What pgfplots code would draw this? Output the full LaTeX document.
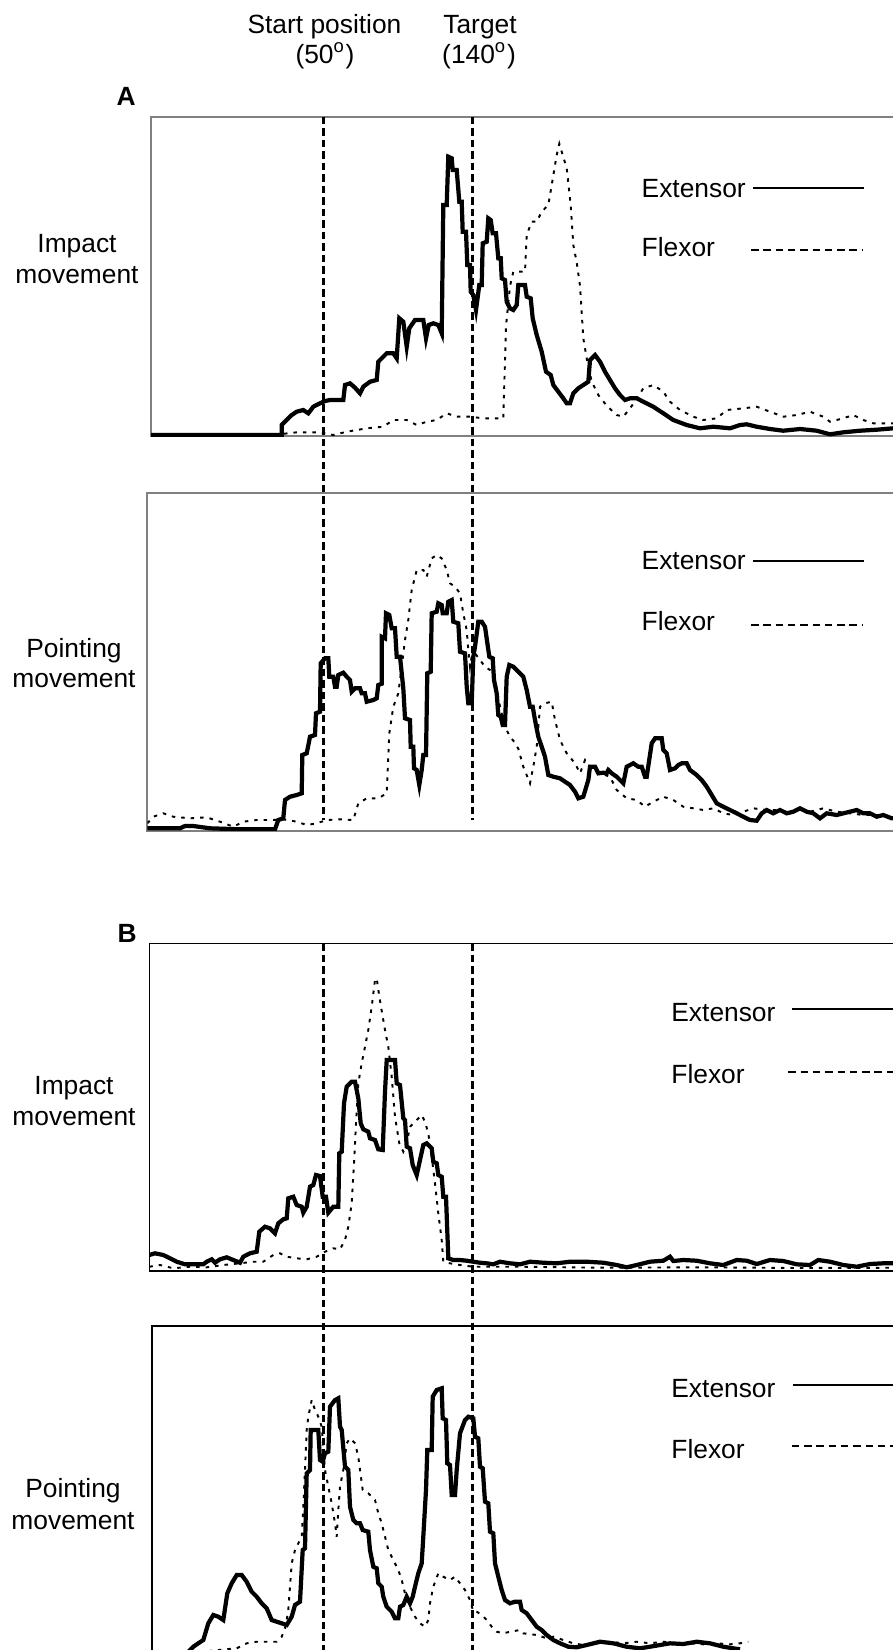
\documentclass[border=0pt]{standalone}
\usepackage{fontspec}
\setmainfont{Liberation Sans}
\usepackage{pgfplots}
\pgfplotsset{compat=1.18}

% one unit = one pixel of the 893x1650 figure (0.1mm)
\pgfplotsset{
  panel/.style={x=0.1mm, y=0.1mm, xmax=905, ymin=0,
    xtick=\empty, ytick=\empty, anchor=south west, clip=true},
  ext/.style={black, line width=1.2pt},
  flex/.style={black, line width=0.55pt, dash pattern=on 0.35mm off 0.6mm},
}
\tikzset{lab/.style={font=\fontsize{7.5}{9}\selectfont, inner sep=0pt},
  vline/.style={line width=0.75pt, dash pattern=on 0.75mm off 0.4mm}}

\begin{document}
\begin{tikzpicture}
\path[use as bounding box] (0,0) rectangle (89.3mm,-165mm);
\clip (0,0) rectangle (89.3mm,-165mm);

% ---- A, impact movement
\begin{axis}[panel, at={(15.1mm,-43.6mm)}, xmin=151, ymax=319.3,
  axis line style={black!50, line width=0.6pt}]
\addplot[ext] coordinates {
(151,1) (281.7,1) (281.7,11) (286.7,16) (291.7,21) (296.7,24.3) (303.3,26) (308.3,22.7)
(313.3,29.3) (320,32.7) (325,35) (330,36) (343.3,36) (345,51) (350,52.7) (355,48.3)
(360,42.7) (363.3,49.3) (370,54.3) (376.7,56) (378.3,74.3) (386.7,82.7) (393.3,82.7)
(396.7,77.7) (399.3,117.7) (403.3,114.3) (406.7,89.3) (409.3,107.7) (415,116) (423.3,116)
(426,97.7) (428.7,111) (433.3,112.7) (438.3,111) (441.7,102.7) (443.3,231) (446.7,231)
(448.3,279.3) (451.7,277.7) (452.7,266) (456.7,266) (459.3,234.3) (461.7,234.3)
(462.7,204.3) (466,204.3) (467.3,171) (470,171) (470.7,144.3) (473.3,141) (476,126)
(479.3,151) (481.7,151) (482.7,192.7) (486.7,194.3) (488.3,217.7) (490.7,216)
(492.7,202.7) (496,202.7) (498.3,177.7) (500.7,177.7) (501.7,157.7) (505,156)
(506.7,134.3) (510,127.7) (513.3,126) (516.7,131) (518.3,151) (525,151) (526.7,139.3)
(530.7,137.7) (532.7,117.7) (536.7,101) (541.7,84.3) (546,64.3) (550.7,61) (553.3,51)
(558.3,44.3) (563.3,37.7) (566.7,32.7) (570,32.7) (573.3,42.7) (578.3,47.7) (583.3,51)
(588.3,54.3) (590,76) (595,81) (600,74.3) (605,64.3) (610,56) (615,47.7) (620,41)
(625,36) (630,37.7) (636.7,37.7) (643.3,34.3) (653.3,29.3) (663.3,22.7) (673.3,16)
(686.7,11) (700,7.7) (713.3,9.3) (730,7.7) (740,11) (746.7,11.7) (756.7,9.3) (770,7)
(783.3,5.3) (800,7) (816.7,5.3) (830,1.7) (843.3,3.7) (860,5.3) (876.7,6.3) (893.3,7.7)
(905,7.7)
};
\addplot[flex] coordinates {
(151,2) (281.7,2) (296.7,3.7) (320,3.7) (333.3,1) (346.7,4.3) (366.7,7.7) (383.3,9.3)
(393.3,16) (406.7,16) (416.7,11) (426.7,14.3) (436.7,16) (446.7,22.7) (456.7,19.3)
(470,19.3) (483.3,17.7) (503.3,17.7) (506,110) (510,150) (513.3,164.3) (525,164.3)
(526.7,201) (531.7,214.3) (536.7,214.3) (541.7,224.3) (548.3,231) (551.7,251)
(556.7,281) (559.3,292.3) (562.7,281) (566.7,267.7) (570.7,231) (573.3,191)
(576.7,173.7) (580,150.3) (583.3,97.7) (586.7,77.7) (591.7,54.3) (598.3,41)
(606.7,30.3) (616.7,21) (623.3,19.3) (630,27.7) (636.7,37) (643.3,47.7) (653.3,51)
(663.3,44.3) (670,34.3) (680,26) (693.3,19.3) (703.3,16) (716.7,17.7) (726.7,26)
(743.3,27.7) (756.7,29.3) (770,24.3) (783.3,19.3) (796.7,21) (810,24.3) (823.3,19.3)
(830,14.3) (843.3,17.7) (853.3,21) (863.3,16) (873.3,12.7) (905,12.7)
};
\end{axis}

% ---- A, pointing movement
\begin{axis}[panel, at={(14.73mm,-83.07mm)}, xmin=147.3, ymax=337.4,
  axis line style={black!50, line width=0.6pt}]
\addplot[ext] coordinates {
(147.3,2.4) (180,2.4) (185,4.7) (193.3,4.7) (210,2.4) (240,1.4) (275,1.4) (278.3,10.7)
(283.3,12.4) (285,30.7) (290,34) (296.7,35.7) (301.7,37.4) (302.3,75.7) (306.7,77.4)
(310,94) (315,95.7) (316,117.4) (320,119) (320.7,167.4) (325,172.4) (328.3,172.4)
(329.3,154) (333.3,154) (335,144) (336.7,144) (338.3,155.7) (343.3,158) (346.7,154)
(350,150.7) (351.7,139) (355,142.4) (360,142.4) (361.7,137.4) (365,137.4) (366.7,129)
(373.3,130.7) (376.7,132.4) (378.3,145.7) (381.7,147) (381.7,194) (385,192.4)
(386,217.4) (389.3,215.7) (391.7,202.4) (395,202.4) (396.7,174) (400,174) (403.3,142.4)
(405,112.4) (410,110.7) (410.7,84) (413.3,84) (414,62.4) (416.7,60.7) (419.3,45.7)
(421.7,60.7) (423.3,75.7) (426,75.7) (427.3,157.4) (430.7,159) (431.7,217.4)
(436.7,219) (438.3,227.4) (441.7,225.7) (442.7,217.4) (446.7,217.4) (448.3,229)
(451.7,230.7) (453.3,209) (458.3,207.4) (460,179) (465,177.4) (466.7,144) (468.3,127.4)
(471.7,127.4) (473.3,174) (475,184) (478.3,209) (481.7,209) (485,204) (489.3,174)
(492.7,172.4) (494,150.7) (496.7,137.4) (498.3,115.7) (500.7,114) (502.7,105.7)
(505,105.7) (506.7,154) (509.3,165.7) (513.3,164) (516.7,160.7) (520,157.4)
(523.3,154) (526.7,140.7) (530,124) (532.7,124) (535,110.7) (538.3,94) (541.7,84)
(545,74) (548.3,55.7) (553.3,54) (560,52.4) (565,49) (570,45.7) (575,39) (578.3,32.4)
(583.3,34) (588.3,50.7) (590,64) (595,64) (598.3,57.4) (603.3,58) (606.7,57.4)
(608.3,60.7) (611.7,57.4) (616.7,54) (623.3,47.4) (626.7,64) (633.3,67.4) (638.3,64)
(641.7,64) (645,54) (646.7,54) (651.7,87.4) (655,92.4) (661.7,92.4) (663.3,80.7)
(666.7,77.4) (670,60.7) (675,62.4) (678.3,65.7) (681.7,67.4) (686.7,67.4) (690,60.7)
(696.7,55.7) (701.7,50.7) (706.7,44) (711.7,35.7) (716.7,27.4) (723.3,24) (730,20.7)
(736.7,17.4) (743.3,14) (750,10.7) (756.7,10) (761.7,17.4) (766.7,20.7) (773.3,17.4)
(780,20.7) (786.7,17.4) (793.3,19) (800,22.4) (806.7,19) (813.3,17.4) (820,12.4)
(826.7,17.4) (836.7,15.7) (843.3,17.4) (850,19) (856.7,20.7) (863.3,17.4) (870,17.4)
(876.7,14) (883.3,15.7) (891.7,12.4) (905,12.4)
};
\addplot[flex] coordinates {
(147.3,7.4) (153.3,14) (163.3,17.4) (173.3,14) (190,12.4) (206.7,13.4) (220,9)
(233.3,4) (243.3,9) (256.7,10.7) (273.3,10.7) (283.3,11.4) (296.7,9) (306.7,5.7)
(316.7,7.4) (326.7,10.7) (340,11.4) (353.3,10.7) (358.3,27.4) (366.7,32.4) (378.3,32.4)
(386.7,37.4) (389.3,97.4) (393.3,124) (398.3,137.4) (401.7,164) (405,190.7)
(408.3,210.7) (411.7,240.7) (416.7,260.7) (423.3,260.7) (426.7,254) (431.7,272.4)
(436.7,275.7) (441.7,272.4) (446.7,260.7) (450,247.4) (455,244) (460,237.4)
(463.3,217.4) (466.7,200.7) (468.3,180.7) (470,164) (471.7,174) (475,177.4) (480,170.7)
(485,164) (490,160.7) (495,150.7) (500,124) (505,104) (510,94) (515,88) (518.3,82)
(523.3,64) (530,47.4) (533.3,64) (536.7,84) (540,124) (545,127.4) (551.7,129)
(555,110.7) (560,90.7) (566.7,77.4) (575,67.4) (580,57.4) (585,70.7) (590,64)
(600,57.4) (610,54) (616.7,40.7) (626.7,32.4) (636.7,30.7) (645,24) (653.3,29)
(663.3,34) (673.3,30.7) (683.3,24) (693.3,22.4) (703.3,20.7) (713.3,22.4) (723.3,17.4)
(733.3,15.7) (743.3,19) (753.3,22.4) (766.7,20.7) (776.7,20.7) (786.7,19) (800,20.7)
(810,19) (823.3,22.4) (836.7,19) (850,17.4) (863.3,15.7) (876.7,15.7) (891.7,14)
(905,14)
};
\end{axis}

% ---- B, impact movement
\begin{axis}[panel, at={(14.93mm,-127.07mm)}, xmin=149.3, ymax=327.4,
  axis line style={black, line width=0.45pt}]
\addplot[ext] coordinates {
(149.3,15.7) (155,17.4) (163.3,15.7) (170,12.4) (176.7,9) (185,6.4) (203.3,6.4)
(206.7,9) (211.7,11.4) (215,8) (220,11.4) (226.7,13.4) (233.3,10.7) (240,8)
(243.3,14) (250,17.4) (256.7,19) (259.3,39) (265,44) (270,42.4) (275,37.4)
(278.3,47.4) (283.3,51.4) (286.7,52.4) (288.3,72.4) (293.3,74) (296.7,65.7)
(301.7,64) (303.3,58) (306.7,64) (310,84) (313.3,85.7) (316,95.7) (320,94.7)
(322.7,74) (326,74) (328.3,58) (333.3,64) (338.3,64) (339.3,117.4) (341.7,119)
(344,167.4) (346.7,184) (351.7,189) (355,189) (358.3,172.4) (360.7,147.4)
(363.3,141.4) (368.3,139) (370,132.4) (375,130.7) (378.3,121.4) (382.7,120.7)
(385,179) (386.7,210.7) (395,210.7) (396.7,187.4) (400,185.7) (403.3,152.4)
(405,150.7) (406.7,124) (410,122.4) (412.7,105.7) (416.7,95.7) (420,110.7)
(423.3,125.7) (426.7,127.4) (431.7,122.4) (433.3,109) (436.7,107.4) (438.3,95.7)
(441.7,94) (443.3,74) (446,74) (448.3,12.4) (453.3,10.7) (460,10.7) (466.7,10)
(473.3,9) (480,8) (486.7,7.4) (493.3,6.4) (500,9) (510,7.4) (520,6.4) (530,9)
(543.3,8) (556.7,7.4) (570,9) (586.7,9) (603.3,8) (616.7,5.7) (626.7,3.4) (636.7,5.7)
(650,9) (663.3,10) (670,14) (673.3,9.7) (683.3,10.7) (696.7,10) (710,7.4) (723.3,5.7)
(736.7,10.7) (746.7,10) (756.7,6.7) (770,10.7) (783.3,9.7) (796.7,6.4) (810,5.7)
(818.3,10.7) (830,9) (843.3,5.7) (856.7,4) (870,6.7) (883.3,7.4) (905,7.4)
};
\addplot[flex] coordinates {
(149.3,4) (160,5.7) (173.3,2.4) (190,4) (206.7,3.4) (223.3,5.7) (240,7.4) (253.3,9)
(263.3,9) (273.3,15.7) (280,17.4) (286.7,14) (296.7,12.4) (306.7,11.4) (316.7,14)
(325,19) (333.3,22.4) (340,21.4) (345,30.7) (348.3,44) (351.7,67.4) (354,107.4)
(356,147.4) (358.3,187.4) (361.7,207.4) (365,224) (368.3,240.7) (371.7,264)
(375,290.7) (376.7,292.4) (379.3,274) (382.7,254) (385,240.7) (388.3,224)
(391.7,194) (395,154) (399.3,127.4) (403.3,119) (406.7,127.4) (410,144) (415,149)
(421.7,155.7) (425,149) (428.3,137.4) (431.7,114) (435,87.4) (438.3,57.4)
(441.7,30.7) (443.3,9) (450,7.4) (460,5.7) (473.3,4) (520,4) (600,3) (700,3.4)
(800,2.7) (905,3)
};
\end{axis}

% ---- B, pointing movement
\begin{axis}[panel, at={(15.17mm,-166mm)}, xmin=151.7, ymax=334.3,
  axis line style={black, line width=0.6pt}]
\addplot[ext] coordinates {
(151.7,4) (188,8) (193.3,13.3) (198.3,16.7) (203.3,20) (208.3,36.7) (213.3,45)
(218.3,43.3) (223.3,40) (227.3,66.7) (231.7,76.7) (236.7,85) (241.7,85) (246.7,78.3)
(251.7,68.3) (256.7,63.3) (261.7,56.7) (266.7,51.7) (271.7,40) (276.7,38.3)
(281.7,36.7) (286.7,35) (291.7,43.3) (295,55) (300,58.3) (302.7,110) (305,111.7)
(306.7,186.7) (310,190) (310.7,230) (318.3,230) (320,200) (322.7,198.3) (325,206.7)
(328.3,208.3) (330,253.3) (335,260) (338.3,261.7) (340,233.3) (341.7,230)
(345,193.3) (348.3,190) (350,153.3) (353.3,140) (356.7,136.7) (360,136.7)
(362.7,130) (368.3,128.3) (370,110) (373.3,93.3) (376.7,91.7) (378.3,76.7)
(381.7,73.3) (383.3,63.3) (386.7,53.3) (391.7,48.3) (395,41.7) (398.3,41.7)
(400,53.3) (403.3,55) (406.7,63.3) (410,56.7) (412.7,63.3) (415,73.3) (418.3,86.7)
(421.7,96.7) (423.3,123.3) (426,170) (427.3,210) (431.7,210) (432.7,263.3)
(436.7,270) (441.7,271.7) (442.7,241.7) (446,240) (447.3,196.7) (450,195)
(451.7,165) (455,165) (456.7,190) (460,226.7) (465,240) (468.3,243.3) (473.3,241.7)
(475,223.3) (478.3,221.7) (480,193.3) (482.7,191.7) (485,158.3) (488.3,156.7)
(490,128.3) (493.3,126.7) (495,96.7) (498.3,83.3) (501.7,70) (505,60) (510,56.7)
(515,58.3) (520,58.3) (521.7,50) (526.7,46.7) (531.7,40) (536.7,33.3) (541.7,30)
(546.7,25) (553.3,20) (560,16.7) (568.3,13.3) (576.7,12.7) (586.7,15) (600,18.3)
(613.3,16.7) (626.7,13.3) (640,11.7) (650,13.3) (660,15) (670,16.7) (683.3,16)
(696.7,18.3) (710,16.7) (723.3,13.3) (733.3,11.7) (740,10.7)
};
\addplot[flex] coordinates {
(151.7,3) (225,10.7) (236.7,11.7) (246.7,16.7) (256.7,18.3) (266.7,18.3) (276.7,18.3)
(281.7,23.3) (285,31.7) (286.7,40) (288.3,50) (291.7,96.7) (295,110) (298.3,116.7)
(301.7,123.3) (303.3,153.3) (305,190) (306.7,230) (308.3,243.3) (311.7,260)
(315,250) (318.3,243.3) (321.7,233.3) (325,190) (328.3,173.3) (331.7,156.7)
(335,136.7) (336.7,123.3) (338.3,150) (340,173.3) (343.3,190) (346.7,216.7)
(350,221.7) (355,216.7) (358.3,203.3) (360,190) (362.7,170) (368.3,166.7) (375,160)
(378.3,146.7) (381.7,136.7) (385,123.3) (388.3,110) (393.3,100) (398.3,90)
(401.7,80) (405,66.7) (410,53.3) (415,43.3) (420,36.7) (425,33.3) (428.3,40)
(430,56.7) (433.3,73.3) (438.3,86.7) (443.3,83.3) (450,80) (455,83.3) (460,76.7)
(465,70) (470,60) (473.3,48.3) (476.7,48.3) (481.7,45) (486.7,40) (491.7,33.3)
(496.7,28.3) (503.3,26.7) (510,28.3) (520,30) (523.3,26.7) (536.7,25) (546.7,21.7)
(553.3,23.3) (563.3,20) (573.3,16.7) (583.3,15) (596.7,16.7) (610,18.3) (623.3,16.7)
(636.7,18.3) (650,16.7) (663.3,18.3) (676.7,16.7) (690,16.7) (703.3,15.7)
(716.7,16.7) (730,15.7) (740,16.7) (748.3,18.3)
};
\end{axis}

% ---- annotations, in pixels of the figure
\begin{scope}[x=0.1mm, y=-0.1mm]
\draw[vline] (323.3,116.7) -- (323.3,820);
\draw[vline] (472.7,116.7) -- (472.7,820);
\draw[vline] (323.3,943.3) -- (323.3,1660);
\draw[vline] (472.7,943.3) -- (472.7,1660);

\node[lab, anchor=base] at (324.5,33) {Start position};
\node[lab, anchor=base] at (325,63.5) {(50\textsuperscript{o})};
\node[lab, anchor=base] at (480,33) {Target};
\node[lab, anchor=base] at (479,63.5) {(140\textsuperscript{o})};
\node[lab, anchor=base west, font=\fontsize{7.5}{9}\selectfont\bfseries] at (116,105) {A};
\node[lab, anchor=base west, font=\fontsize{7.5}{9}\selectfont\bfseries] at (117,942) {B};

\node[lab, anchor=base] at (77,252) {Impact};
\node[lab, anchor=base] at (77,283) {movement};
\node[lab, anchor=base] at (74,657) {Pointing};
\node[lab, anchor=base] at (74,687) {movement};
\node[lab, anchor=base] at (74,1094) {Impact};
\node[lab, anchor=base] at (74,1125) {movement};
\node[lab, anchor=base] at (73,1497) {Pointing};
\node[lab, anchor=base] at (73,1529) {movement};

\node[lab, anchor=base west] at (641,197) {Extensor};
\draw[line width=0.65pt] (753,188.3) -- (864,188.3);
\node[lab, anchor=base west] at (641,256.7) {Flexor};
\draw[line width=0.6pt, dash pattern=on 0.75mm off 0.48mm] (751,250) -- (862,250);

\node[lab, anchor=base west] at (641,569.3) {Extensor};
\draw[line width=0.65pt] (753,560.7) -- (864,560.7);
\node[lab, anchor=base west] at (641,630.7) {Flexor};
\draw[line width=0.6pt, dash pattern=on 0.75mm off 0.48mm] (751,625) -- (862,625);

\node[lab, anchor=base west] at (670.7,1021.7) {Extensor};
\draw[line width=0.65pt] (791.7,1009.3) -- (905,1009.3);
\node[lab, anchor=base west] at (670.7,1083.3) {Flexor};
\draw[line width=0.6pt, dash pattern=on 0.75mm off 0.48mm] (788.3,1071.7) -- (905,1071.7);

\node[lab, anchor=base west] at (670.7,1397) {Extensor};
\draw[line width=0.65pt] (793.3,1385) -- (905,1385);
\node[lab, anchor=base west] at (670.7,1458) {Flexor};
\draw[line width=0.6pt, dash pattern=on 0.75mm off 0.48mm] (791.7,1446) -- (905,1446);
\end{scope}
\end{tikzpicture}
\end{document}
